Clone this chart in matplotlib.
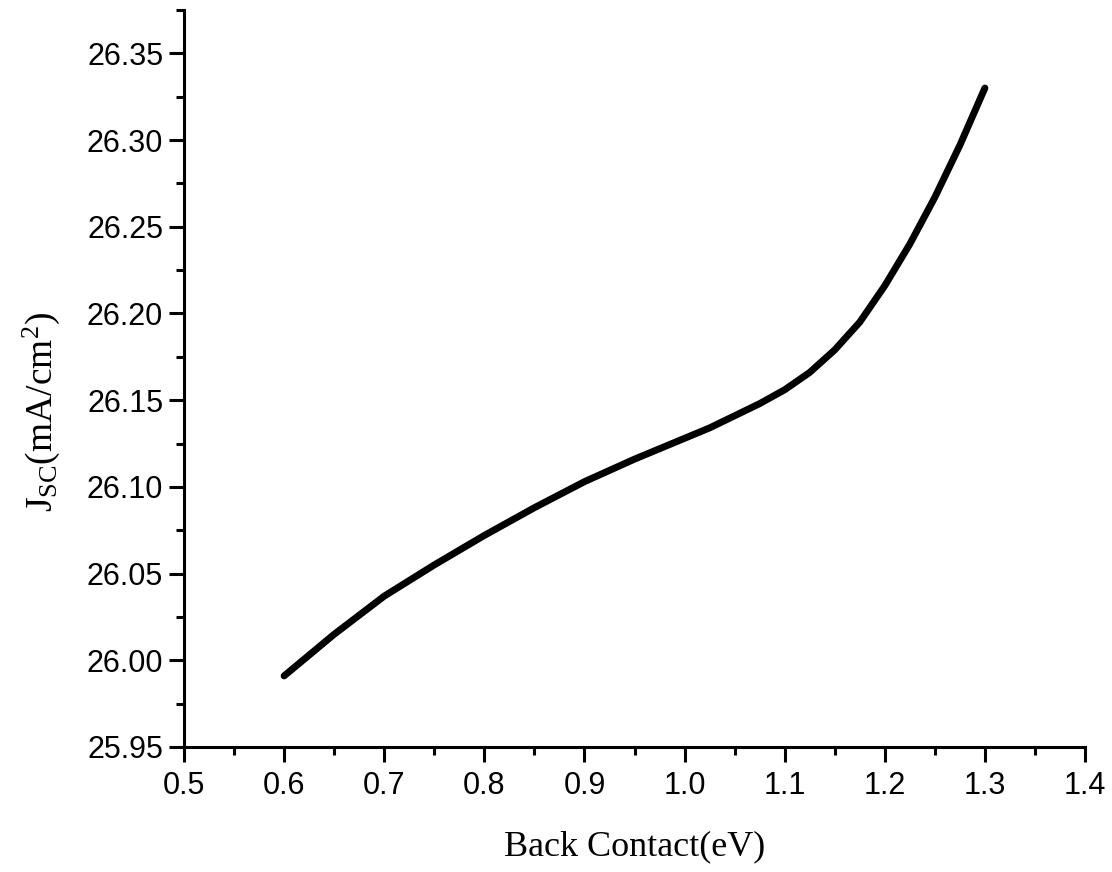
import matplotlib
matplotlib.use('Agg')
import matplotlib.pyplot as plt
from matplotlib.ticker import MultipleLocator, FormatStrFormatter

plt.rcParams['mathtext.fontset'] = 'custom'
plt.rcParams['mathtext.rm'] = 'Liberation Serif'
plt.rcParams['mathtext.it'] = 'Liberation Serif:italic'

# 数据
back_contact = [0.60, 0.65, 0.70, 0.75, 0.80, 0.85, 0.90, 0.95, 1.00, 1.025,
                1.05, 1.075, 1.10, 1.125, 1.15, 1.175, 1.20, 1.225, 1.25, 1.275, 1.30]
jsc = [25.991, 26.015, 26.037, 26.055, 26.072, 26.088, 26.103, 26.116, 26.128, 26.134,
       26.141, 26.148, 26.156, 26.166, 26.179, 26.195, 26.216, 26.240, 26.267, 26.297, 26.330]

fig = plt.figure(figsize=(11.12, 8.72), dpi=100)
ax = fig.add_axes([184 / 1112, 1 - 747 / 872, 901 / 1112, 737 / 872])

ax.plot(back_contact, jsc, color='black', linewidth=5, solid_capstyle='round',
        solid_joinstyle='round')

ax.set_xlim(0.5, 1.4)
ax.set_ylim(25.95, 26.375)
ax.xaxis.set_major_locator(MultipleLocator(0.1))
ax.xaxis.set_minor_locator(MultipleLocator(0.05))
ax.yaxis.set_major_locator(MultipleLocator(0.05))
ax.yaxis.set_minor_locator(MultipleLocator(0.025))
ax.xaxis.set_major_formatter(FormatStrFormatter('%.1f'))
ax.yaxis.set_major_formatter(FormatStrFormatter('%.2f'))

for side in ['top', 'right']:
    ax.spines[side].set_visible(False)
for side in ['left', 'bottom']:
    ax.spines[side].set_linewidth(2.2)

ax.tick_params(which='major', direction='out', length=11, width=2.2,
               labelsize=22)
ax.tick_params(axis='x', which='major', pad=6)
ax.tick_params(axis='y', which='major', pad=4)
ax.tick_params(which='minor', direction='out', length=6, width=2.2)
for lab in ax.get_xticklabels() + ax.get_yticklabels():
    lab.set_family('Liberation Sans')

ax.set_xlabel('Back Contact(eV)', fontsize=26, family='Liberation Serif')
ax.xaxis.set_label_coords(0.5, -0.113)
ax.set_ylabel(r'$\mathrm{J_{SC}(mA/cm^{2})}$', fontsize=27)
ax.yaxis.set_label_coords(-0.135, 0.455)

plt.savefig('out.png', dpi=100)
plt.close()
